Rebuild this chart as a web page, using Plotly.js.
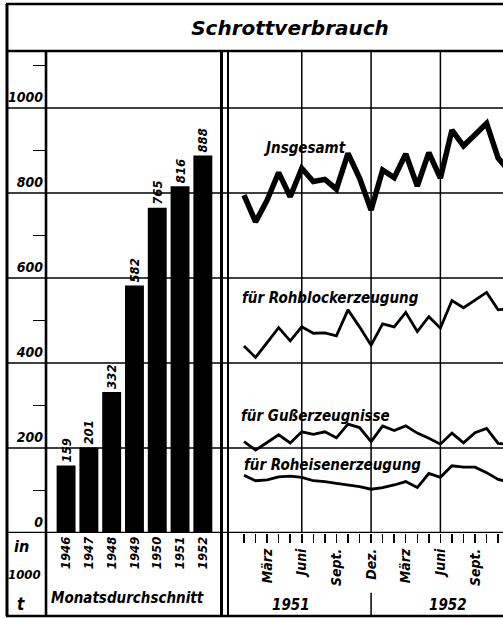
<!DOCTYPE html>
<html>
<head>
<meta charset="utf-8">
<script src="https://cdn.plot.ly/plotly-3.0.1.min.js"></script>
<style>html,body{margin:0;padding:0;background:#fff;}#chart{width:503px;height:619px;}</style>
</head>
<body>
<div id="chart"></div>
<script>
// ---- data ----
const years = ['1946','1947','1948','1949','1950','1951','1952'];
const monthlyAverage = [159, 201, 332, 582, 765, 816, 888];

const months = ['1951-01','1951-02','1951-03','1951-04','1951-05','1951-06','1951-07','1951-08','1951-09','1951-10','1951-11','1951-12',
                '1952-01','1952-02','1952-03','1952-04','1952-05','1952-06','1952-07','1952-08','1952-09','1952-10','1952-11','1952-12'];
const monthLabels = ['','','März','','','Juni','','','Sept.','','','Dez.','','','März','','','Juni','','','Sept.','','','Dez.'];

const insgesamt  = [795, 732, 783, 848, 791, 858, 827, 832, 809, 893, 835, 760, 854, 836, 892, 816, 895, 835, 948, 911, 937, 964, 882, 850];
const rohblock   = [440, 413, 448, 483, 452, 485, 470, 471, 464, 525, 485, 442, 492, 485, 519, 474, 509, 482, 547, 530, 548, 566, 525, 528];
const guss       = [215, 195, 213, 231, 212, 238, 232, 238, 224, 256, 248, 215, 252, 241, 252, 235, 223, 209, 235, 212, 236, 246, 211, 208];
const roheisen   = [136, 123, 125, 132, 134, 131, 123, 121, 117, 113, 109, 103, 107, 113, 121, 107, 140, 131, 158, 155, 155, 142, 126, 120];

const yTicks = [0, 200, 400, 600, 800, 1000];
const yTickText = ['0', '200', '400', '600', '800', '1000'];
const yMinorTicks = [100, 300, 500, 700, 900, 1100];
const gridValues = [200, 400, 600, 800, 1000];
const yearLabels = ['1951', '1952'];

// ---- style ----
const FONT = '"DejaVu Sans Condensed", "DejaVu Sans", sans-serif';
const TFONT = '"DejaVu Sans", sans-serif';
function f(size) { return {family: FONT, size: size, color: '#000', weight: 'bold', style: 'italic'}; }

const traces = [
  {type: 'bar', x: years, y: monthlyAverage, xaxis: 'x', yaxis: 'y',
   marker: {color: '#000', line: {width: 0}}, width: 0.83,
   text: monthlyAverage.map(String), textposition: 'outside', textangle: -90,
   textfont: f(13), cliponaxis: false, constraintext: 'none', hoverinfo: 'skip'},
  {type: 'scatter', mode: 'lines', x: months, y: insgesamt, xaxis: 'x2', yaxis: 'y',
   line: {color: '#000', width: 5.5}, hoverinfo: 'skip'},
  {type: 'scatter', mode: 'lines', x: months, y: rohblock, xaxis: 'x2', yaxis: 'y',
   line: {color: '#000', width: 2.8}, hoverinfo: 'skip'},
  {type: 'scatter', mode: 'lines', x: months, y: guss, xaxis: 'x2', yaxis: 'y',
   line: {color: '#000', width: 2.8}, hoverinfo: 'skip'},
  {type: 'scatter', mode: 'lines', x: months, y: roheisen, xaxis: 'x2', yaxis: 'y',
   line: {color: '#000', width: 2.8}, hoverinfo: 'skip'}
];

const PB = -0.1722, PT = 1.0975;
const shapes = [];
gridValues.forEach(v => shapes.push({type: 'line', xref: 'paper', yref: 'y', x0: 0, x1: 1, y0: v, y1: v, line: {color: '#000', width: 1.4}, layer: 'below'}));
shapes.push({type: 'line', xref: 'paper', yref: 'y', x0: 0, x1: 1, y0: 0, y1: 0, line: {color: '#000', width: 2.6}});
[5, 11, 17].forEach(i => shapes.push({type: 'line', xref: 'x2', yref: 'paper', x0: months[i], x1: months[i], y0: 0, y1: 1, line: {color: '#000', width: 1.5}, layer: 'below'}));
// frame
shapes.push({type: 'line', xref: 'paper', yref: 'paper', x0: 0.002, x1: 0.002, y0: PB, y1: PT, line: {color: '#000', width: 3}});
shapes.push({type: 'line', xref: 'paper', yref: 'paper', x0: 0, x1: 1, y0: PT, y1: PT, line: {color: '#000', width: 2.5}});
shapes.push({type: 'line', xref: 'paper', yref: 'paper', x0: 0, x1: 1, y0: 1, y1: 1, line: {color: '#000', width: 2.5}});
shapes.push({type: 'line', xref: 'paper', yref: 'paper', x0: 0, x1: 1, y0: PB, y1: PB, line: {color: '#000', width: 2.5}});
shapes.push({type: 'line', xref: 'paper', yref: 'paper', x0: 0.0805, x1: 0.0805, y0: PB, y1: 1, line: {color: '#000', width: 2.6}});
shapes.push({type: 'line', xref: 'paper', yref: 'paper', x0: 0.4336, x1: 0.4336, y0: PB, y1: 1, line: {color: '#000', width: 3}});
shapes.push({type: 'line', xref: 'paper', yref: 'paper', x0: 0.4467, x1: 0.4467, y0: PB, y1: 1, line: {color: '#000', width: 2}});
shapes.push({type: 'line', xref: 'x2', yref: 'paper', x0: months[11], x1: months[11], y0: -0.124, y1: PB, line: {color: '#000', width: 1.5}});

function ann(text, xref, yref, x, y, size) {
  return {text: text, xref: xref, yref: yref, x: x, y: y, xanchor: 'center', yanchor: 'middle', showarrow: false, font: f(size)};
}
const annotations = [
  ann('Jnsgesamt', 'x2', 'y', 5.28, 906, 15),
  ann('für Rohblockerzeugung', 'x2', 'y', 7.53, 553, 15),
  ann('für Gußerzeugnisse', 'x2', 'y', 6.23, 275, 15),
  ann('für Roheisenerzeugung', 'x2', 'y', 7.69, 160, 15),
  ann('Monatsdurchschnitt', 'paper', 'paper', 0.2445, -0.135, 15),
  ann('in', 'paper', 'paper', 0.031, -0.028, 16),
  ann('1000', 'paper', 'paper', 0.038, -0.087, 13),
  ann('t', 'paper', 'paper', 0.03, -0.147, 17),
  ann(yearLabels[0], 'paper', 'paper', 0.5744, -0.149, 15),
  ann(yearLabels[1], 'paper', 'paper', 0.8893, -0.149, 15)
];

const layout = {
  width: 503, height: 619,
  margin: {l: 6, r: 0, t: 51, b: 86, pad: 0},
  paper_bgcolor: '#fff', plot_bgcolor: 'rgba(0,0,0,0)',
  showlegend: false,
  title: {text: 'Schrottverbrauch', xref: 'container', yref: 'container', x: 290/503, y: (619-28)/619,
          xanchor: 'center', yanchor: 'middle', font: {family: TFONT, size: 20, color: '#000', weight: 'bold', style: 'italic'}},
  xaxis: {domain: [0.0805, 0.4346], anchor: 'y', type: 'category', range: [-0.88, 6.84],
          tickangle: -90, ticks: '', showline: false, showgrid: false, zeroline: false, tickfont: f(13), fixedrange: true},
  xaxis2: {domain: [0.4467, 1], anchor: 'y', type: 'category', range: [-1.385, 22.42],
           tickmode: 'array', tickvals: months, ticktext: monthLabels, ticks: 'outside', ticklen: 9, tickwidth: 1.5, tickcolor: '#000',
           tickangle: -90, showline: false, showgrid: false, zeroline: false, tickfont: f(14), fixedrange: true},
  yaxis: {anchor: 'free', position: 0.0805, range: [0, 1134], tickmode: 'array', tickvals: yTicks, ticktext: yTickText,
          ticks: '', showgrid: false, zeroline: false, showline: false, tickfont: f(14),
          ticklabelshift: -11, ticklabelstandoff: 3,
          minor: {tickmode: 'array', tickvals: yMinorTicks, ticks: 'outside', ticklen: 13, tickwidth: 1.5, tickcolor: '#000', showgrid: false},
          fixedrange: true},
  shapes: shapes,
  annotations: annotations
};

Plotly.newPlot('chart', traces, layout, {staticPlot: true, displayModeBar: false});
</script>
</body>
</html>
